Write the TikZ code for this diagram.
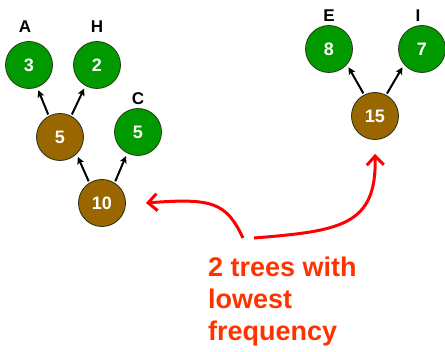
\documentclass[tikz,border=0pt]{standalone}
\usepackage{fontspec}
\setmainfont{Liberation Sans}
\usetikzlibrary{arrows.meta}
\definecolor{nodegreen}{RGB}{0,153,0}
\definecolor{nodebrown}{RGB}{153,102,0}
\definecolor{darkrim}{RGB}{40,60,20}
\definecolor{notered}{RGB}{255,51,0}
\tikzset{
  leaf/.style={circle,draw=darkrim,line width=0.8pt,fill=nodegreen,minimum size=47pt,inner sep=0pt,
    text=white,font=\fontsize{18}{20}\selectfont\bfseries},
  inner/.style={leaf,fill=nodebrown,draw=darkrim!80!black},
  tag/.style={anchor=base,font=\fontsize{17}{19}\selectfont\bfseries,text=black,inner sep=0pt},
  edge/.style={-{Stealth[length=7pt,width=7pt,inset=1.5pt]},line width=2pt,shorten <=1.5pt,shorten >=3pt},
  pointer/.style={-{Straight Barb[length=9pt,width=17pt,line width=3pt]},red,line width=3pt},
}
\begin{document}
\begin{tikzpicture}[x=1pt,y=-1pt]
\useasboundingbox (0,0) rectangle (445,352);
% left tree
\node[leaf] (a3) at (29,65) {3};
\node[leaf] (h2) at (97,65) {2};
\node[inner] (b5) at (60,137) {5};
\node[leaf] (c5) at (138,132) {5};
\node[inner] (b10) at (102,203) {10};
\node[tag] (la) at (25,33) {A};
\node[tag] (lh) at (97,33) {H};
\node[tag] (lc) at (138,105) {C};
\draw[edge] (b5.118) -- (a3.-70);
\draw[edge] (b5.62) -- (h2.-119);
\draw[edge] (b10.122) -- (b5.-46);
\draw[edge] (b10.58) -- (c5.-117);
% right tree
\node[leaf] (e8) at (329,49) {8};
\node[leaf] (i7) at (422,49) {7};
\node[inner] (b15) at (375,116) {15};
\node[tag] (le) at (329,22) {E};
\node[tag] (li) at (418,22) {I};
\draw[edge] (b15.117) -- (e8.-41);
\draw[edge] (b15.62) -- (i7.-139);
% note
\node[anchor=base west,align=left,inner sep=0pt,text=notered,
      font=\fontsize{27}{32}\selectfont\bfseries] (note) at (208,341)
      {2 trees with\\lowest\\frequency};
\coordinate (s1) at (243,238);
\coordinate (s2) at (254,238);
\draw[pointer] (s1) .. controls (226,202) and (212,198) .. ([xshift=20pt]b10.east);
\draw[pointer] (s2) .. controls (340,231) and (377,226) .. ([yshift=-14pt]b15.south);
\end{tikzpicture}
\end{document}
